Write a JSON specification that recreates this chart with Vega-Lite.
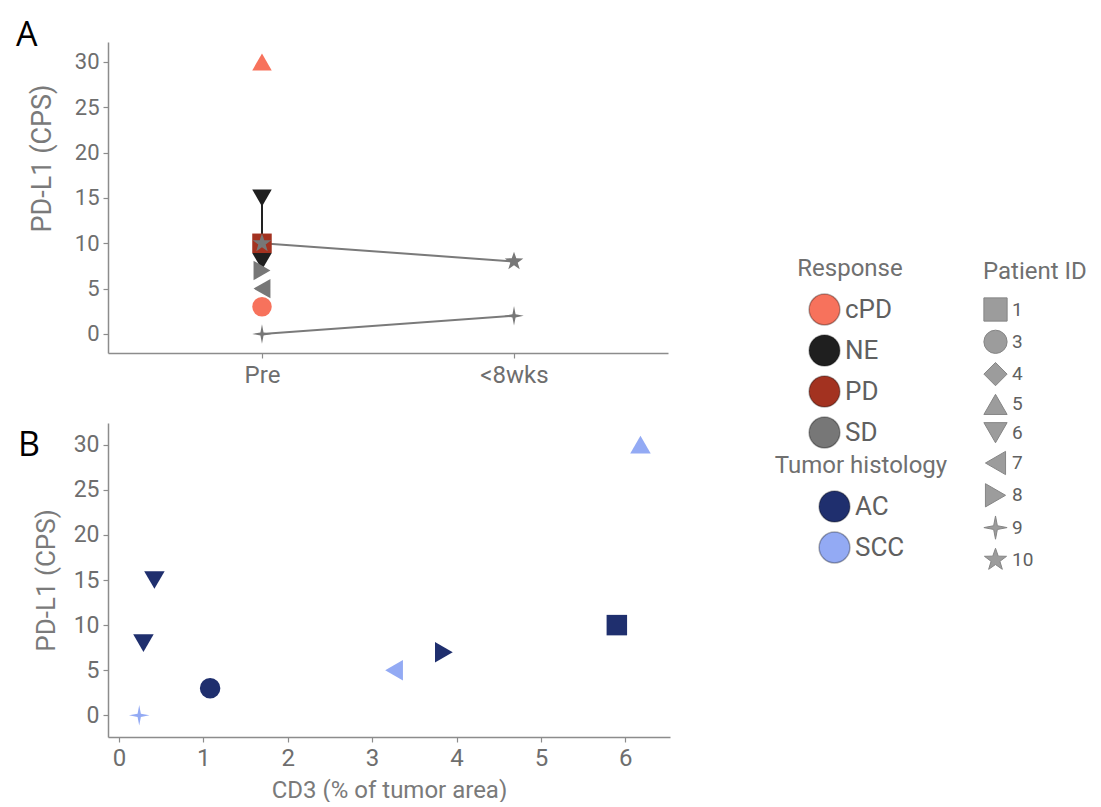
{
  "$schema": "https://vega.github.io/schema/vega-lite/v6.json",
  "padding": {"left": 16, "top": 19, "right": 0, "bottom": 0},
  "background": "white",
  "config": {
    "font": "Roboto",
    "view": {"stroke": null},
    "axis": {
      "grid": false,
      "domainColor": "#8c8c8c",
      "domainWidth": 1.5,
      "tickColor": "#8c8c8c",
      "tickWidth": 1.2,
      "tickSize": 5,
      "labelColor": "#6e6e6e",
      "labelFontSize": 22,
      "labelPadding": 4,
      "titleColor": "#7a7a7a",
      "titleFontSize": 25,
      "titleFontWeight": "normal"
    },
    "legend": {
      "orient": "none",
      "padding": 0,
      "titleColor": "#707070",
      "titleFontSize": 24,
      "titleFontWeight": "normal",
      "titleAnchor": "middle",
      "labelColor": "#606060"
    },
    "title": {"font": "Open Sans", "fontSize": 34, "fontWeight": "normal", "color": "#000000", "anchor": "start", "frame": "group"}
  },
  "datasets": {
    "pdl1": [
      {"patient": "6", "time": "Pre", "cps": 15, "response": "NE"},
      {"patient": "6", "time": "Pre", "cps": 8, "response": "NE"},
      {"patient": "8", "time": "Pre", "cps": 7, "response": "SD"},
      {"patient": "7", "time": "Pre", "cps": 5, "response": "SD"},
      {"patient": "3", "time": "Pre", "cps": 3, "response": "cPD"},
      {"patient": "9", "time": "Pre", "cps": 0, "response": "SD"},
      {"patient": "9", "time": "<8wks", "cps": 2, "response": "SD"},
      {"patient": "5", "time": "Pre", "cps": 30, "response": "cPD"},
      {"patient": "1", "time": "Pre", "cps": 10, "response": "PD"},
      {"patient": "10", "time": "Pre", "cps": 10, "response": "SD"},
      {"patient": "10", "time": "<8wks", "cps": 8, "response": "SD"}
    ],
    "cd3": [
      {"patient": "9", "cd3": 0.24, "cps": 0, "histology": "SCC"},
      {"patient": "3", "cd3": 1.08, "cps": 3, "histology": "AC"},
      {"patient": "6", "cd3": 0.29, "cps": 8, "histology": "AC"},
      {"patient": "6", "cd3": 0.42, "cps": 15, "histology": "AC"},
      {"patient": "7", "cd3": 3.26, "cps": 5, "histology": "SCC"},
      {"patient": "8", "cd3": 3.85, "cps": 7, "histology": "AC"},
      {"patient": "1", "cd3": 5.9, "cps": 10, "histology": "AC"},
      {"patient": "5", "cd3": 6.18, "cps": 30, "histology": "SCC"}
    ]
  },
  "spacing": 36,
  "vconcat": [
    {
      "width": 560,
      "height": 311,
      "title": {"text": "A", "dx": -92, "offset": -11},
      "data": {"name": "pdl1"},
      "layer": [
        {
          "mark": {"type": "line", "strokeWidth": 2},
          "encoding": {
            "x": {"field": "time", "type": "nominal", "sort": ["Pre", "<8wks"], "scale": {"type": "point", "padding": 0.611}, "axis": {"title": null, "labelAngle": 0, "labelFontSize": 24, "labelPadding": 5}},
            "y": {"field": "cps", "type": "quantitative", "scale": {"domain": [-2.1, 32.2], "nice": false, "zero": false}, "axis": {"values": [0, 5, 10, 15, 20, 25, 30], "title": "PD-L1 (CPS)", "titlePadding": 18, "titleFontSize": 27, "titleY": 116}},
            "detail": {"field": "patient", "type": "nominal"},
            "stroke": {"condition": {"test": "datum.response === 'NE'", "value": "#222222"}, "value": "#7a7a7a"}
          }
        },
        {
          "mark": {"type": "point", "filled": true, "opacity": 1, "size": 380},
          "encoding": {
            "x": {"field": "time", "type": "nominal", "sort": ["Pre", "<8wks"]},
            "y": {"field": "cps", "type": "quantitative"},
            "color": {
              "field": "response", "type": "nominal", "title": "Response",
              "scale": {"domain": ["cPD", "NE", "PD", "SD"], "range": ["#F7725C", "#1F1F1F", "#A33220", "#777777"]},
              "legend": {
                "legendX": 689, "legendY": 215,
                "symbolType": "circle", "symbolSize": 950,
                "symbolStrokeColor": "rgba(0,0,0,0.3)", "symbolStrokeWidth": 1.5,
                "labelFontSize": 26, "rowPadding": 4, "titlePadding": 12
              }
            },
            "shape": {
              "field": "patient", "type": "nominal", "title": "Patient ID",
              "scale": {
                "domain": ["1", "3", "4", "5", "6", "7", "8", "9", "10"],
                "range": ["square", "circle", "diamond", "triangle-up", "triangle-down", "triangle-left", "triangle-right",
                  "M0,-1L0.16,-0.16L1,0L0.16,0.16L0,1L-0.16,0.16L-1,0L-0.16,-0.16Z",
                  "M0,-1L0.235,-0.324L0.951,-0.309L0.38,0.124L0.588,0.809L0,0.4L-0.588,0.809L-0.38,0.124L-0.951,-0.309L-0.235,-0.324Z"]
              },
              "legend": {
                "legendX": 875, "legendY": 218,
                "titleAnchor": "start",
                "symbolSize": 540, "labelFontSize": 19, "rowPadding": 3.3, "titlePadding": 13,
                "symbolFillColor": "#9c9c9c", "symbolStrokeColor": "#858585", "symbolStrokeWidth": 1
              }
            }
          }
        }
      ]
    },
    {
      "width": 562,
      "height": 314,
      "title": {"text": "B", "dx": -90, "offset": -40},
      "data": {"name": "cd3"},
      "mark": {"type": "point", "filled": true, "opacity": 1, "size": 420},
      "encoding": {
        "x": {"field": "cd3", "type": "quantitative", "scale": {"domain": [-0.13, 6.53], "nice": false, "zero": false}, "axis": {"values": [0, 1, 2, 3, 4, 5, 6], "title": "CD3 (% of tumor area)", "labelFontSize": 24, "titleFontSize": 24, "titlePadding": 8}},
        "y": {"field": "cps", "type": "quantitative", "scale": {"domain": [-2.4, 32.4], "nice": false, "zero": false}, "axis": {"values": [0, 5, 10, 15, 20, 25, 30], "title": "PD-L1 (CPS)", "titlePadding": 14, "titleFontSize": 26, "labelFontSize": 23}},
        "fill": {
          "field": "histology", "type": "nominal", "title": "Tumor histology",
          "scale": {"domain": ["AC", "SCC"], "range": ["#1F2F6E", "#93AAF4"]},
          "legend": {
            "legendX": 667, "legendY": 412,
            "symbolType": "circle", "symbolSize": 950,
            "symbolStrokeColor": "rgba(0,0,0,0.3)", "symbolStrokeWidth": 1.5,
            "labelFontSize": 26, "rowPadding": 4, "titlePadding": 12
          }
        },
        "shape": {"field": "patient", "type": "nominal"}
      }
    }
  ]
}
